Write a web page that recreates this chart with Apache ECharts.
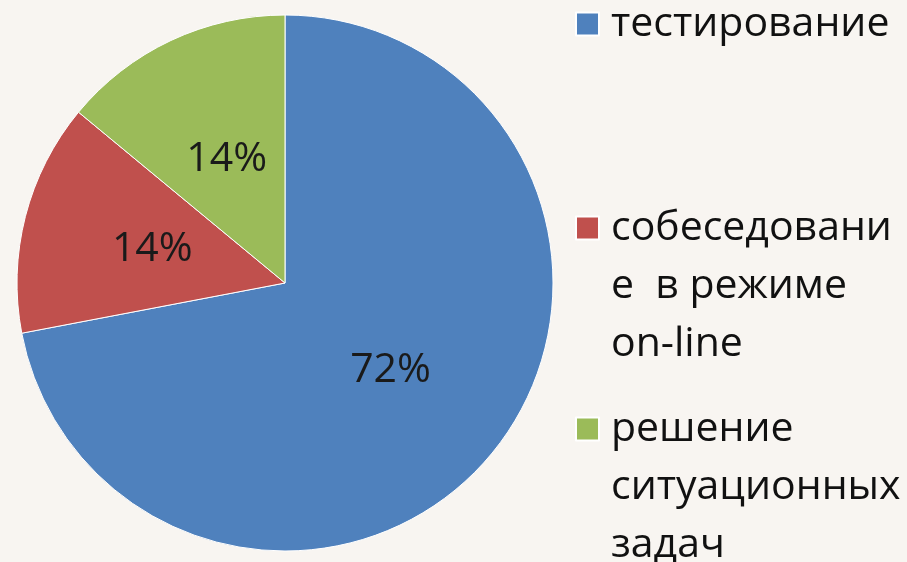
<!DOCTYPE html>
<html>
<head>
<meta charset="utf-8">
<script src="https://cdn.jsdelivr.net/npm/echarts@6/dist/echarts.min.js"></script>
<style>
  html, body { margin: 0; padding: 0; background: #f8f5f1; }
  #chart { width: 907px; height: 562px; }
</style>
</head>
<body>
<div id="chart"></div>
<script>
const categories = [
  'тестирование',
  'собеседовани\nе  в режиме\non-line',
  'решение\nситуационных\nзадач'
];
const values = [72, 14, 14];
const colors = ['#4f81bd', '#c0504d', '#9bbb59'];

const fontFamily = '"Open Sans", sans-serif';

const pieData = categories.map((name, i) => {
  return { name: name, value: values[i], itemStyle: { color: colors[i] } };
});

// one legend per entry so the spacing can follow the picture.
// the icon sits in the middle of the text block, so empty lines are
// put in front to keep it next to the first line
const legendTops = [-5, 83, 284];
const legends = categories.map((name, i) => {
  const lines = name.split('\n').length;
  return {
    data: [name],
    orient: 'vertical',
    left: 575,
    top: legendTops[i],
    padding: 0,
    itemWidth: 23,
    itemHeight: 23,
    icon: 'rect',
    selectedMode: false,
    formatter: (n) => '\n'.repeat(lines - 1) + n,
    textStyle: {
      fontFamily: fontFamily,
      fontSize: 41,
      color: '#111',
      lineHeight: 58,
      padding: [0, 0, 0, 7],
    },
  };
});

const chart = echarts.init(document.getElementById('chart'), null, { renderer: 'canvas' });
chart.setOption({
  backgroundColor: '#f8f5f1',
  animation: false,
  legend: legends,
  series: [
    {
      type: 'pie',
      center: [285, 283],
      radius: 268,
      startAngle: 90,
      clockwise: true,
      data: pieData,
      itemStyle: { borderColor: '#ffffff', borderWidth: 1 },
      label: {
        show: true,
        position: 'inside',
        formatter: '{d}%',
        fontFamily: fontFamily,
        fontSize: 41,
        color: '#1a1a1a',
      },
      labelLine: { show: false },
    },
  ],
});
</script>
</body>
</html>
